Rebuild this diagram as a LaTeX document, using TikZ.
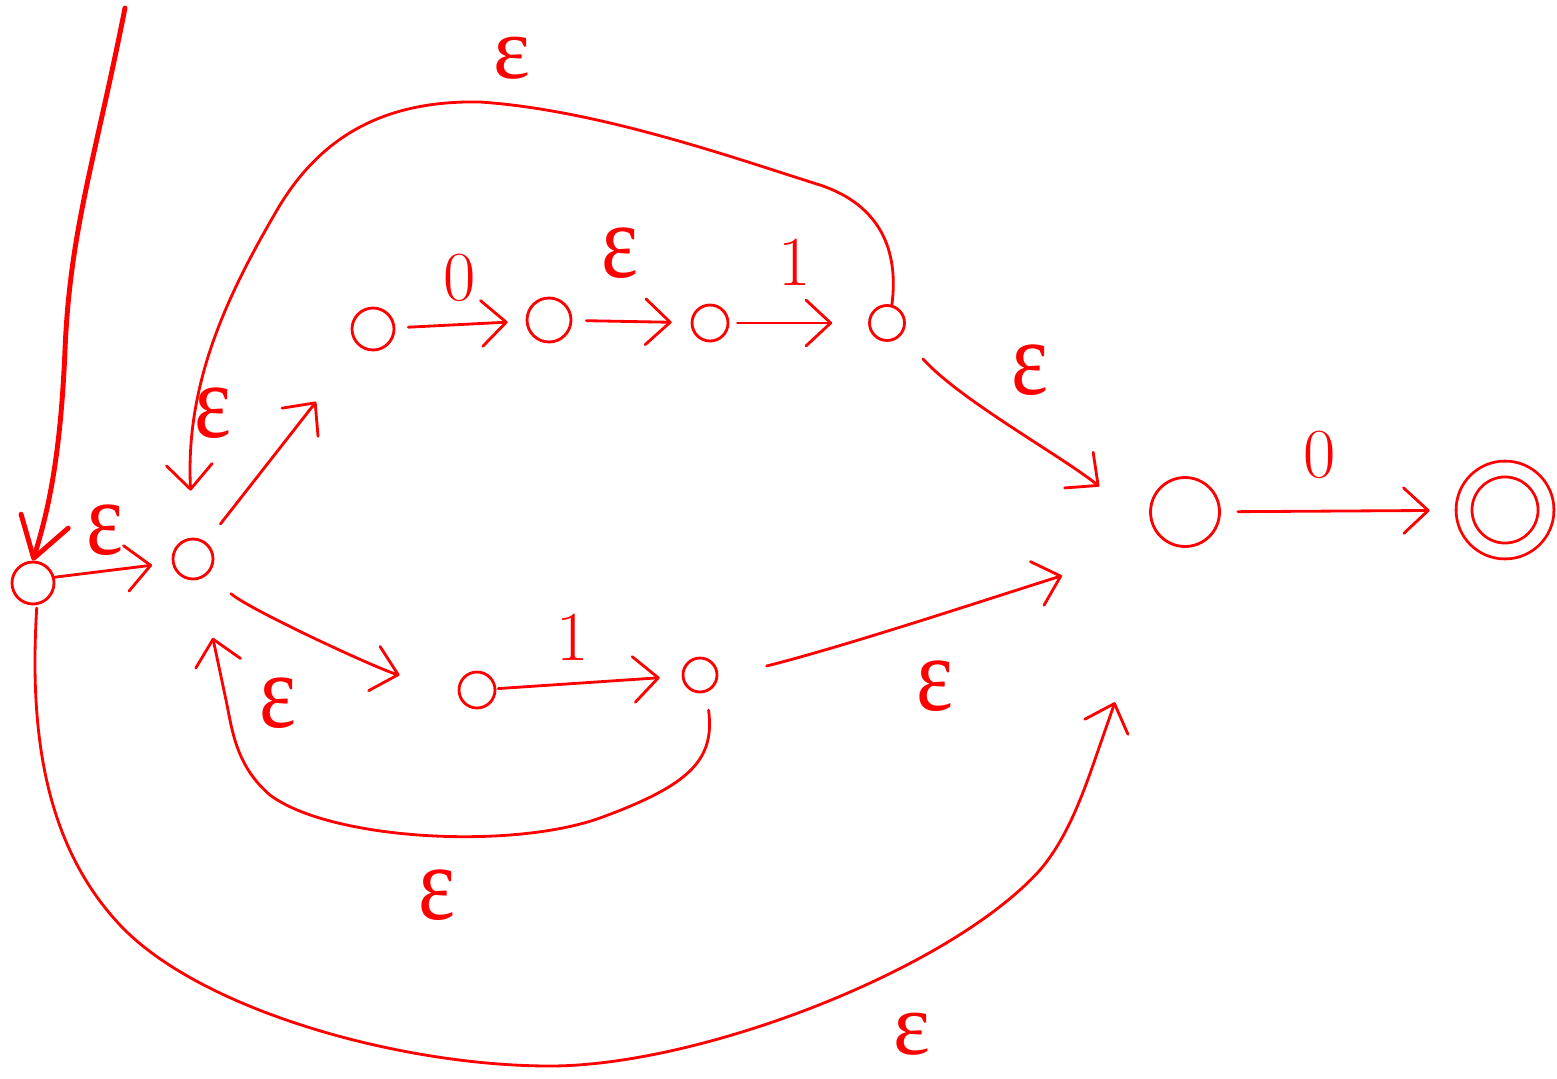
\documentclass[tikz,border=0pt]{standalone}
\usepackage{fontspec}
\usepackage{graphicx}
\newfontfamily\epsfont{Liberation Serif}
\usetikzlibrary{arrows.meta}
\begin{document}
\begin{tikzpicture}[x=0.02cm,y=-0.02cm,
  st/.style={circle,draw=red,line width=1.6pt,inner sep=0pt,minimum size=#1},
  edge/.style={draw=red,line width=1.6pt,line cap=round,line join=round,
    -{Straight Barb[length=14pt,width=26pt,round]}},
  eps/.style={text=red,inner sep=2pt,font=\epsfont\fontsize{50}{54}\selectfont},
  dig/.style={text=red,inner sep=0pt,font=\fontsize{40}{44}\selectfont}]
\useasboundingbox (0,0) rectangle (1557,1078);
% states
\node[st=0.84cm] (A) at (33,583) {};
\node[st=0.80cm] (B) at (193,559) {};
\node[st=0.84cm] (C) at (373,329) {};
\node[st=0.88cm] (D) at (549,320) {};
\node[st=0.72cm] (E) at (710,323) {};
\node[st=0.70cm] (F) at (887,323) {};
\node[st=0.72cm] (H) at (477,690) {};
\node[st=0.68cm] (I) at (700,675) {};
\node[st=1.38cm] (G) at (1185,512) {};
\node[st=1.64cm,double=white,double distance=7.4pt] (J) at (1505,510) {};
\coordinate (S) at (125,8);
% start arrow
\draw[edge,line width=2.8pt,-{Straight Barb[length=22pt,width=28pt,round]}]
  (S) .. controls (95,160) and (70,230) .. (65,350)
      .. controls (60,470) and (45,520) .. (A.north);
% A -> B
\draw[edge,shorten >=0.4cm] (A.15) -- (B.190);
\node[eps] (l1) at (105,530) {\scalebox{1}[1.2]{ε}};
% B -> C
\draw[edge,shorten <=0.46cm,shorten >=1.4cm] (B) -- (C);
\node[eps] (l2) at (213,413) {\scalebox{1}[1.2]{ε}};
% C -> D -> E -> F
\draw[edge,shorten <=0.26cm,shorten >=0.36cm] (C) -- (D);
\node[dig] (l3) at (460,278) {0};
\draw[edge,shorten <=0.28cm,shorten >=0.38cm] (D) -- (E);
\node[eps] (l4) at (620,253) {\scalebox{1}[1.2]{ε}};
\draw[edge,shorten <=0.16cm,shorten >=0.72cm] (E) -- (F);
\node[dig] (l5) at (795,262) {1};
% F -> B loop (top)
\draw[edge,shorten >=0.94cm] (F.75) .. controls (899,250) and (880,205) .. (820,185)
  .. controls (740,160) and (600,110) .. (480,102)
  .. controls (380,100) and (320,140) .. (280,205)
  .. controls (230,290) and (185,380) .. (B.north);
\node[eps] (l6) at (512,58) {ε};
% F -> G
\draw[edge,shorten <=0.64cm,shorten >=1.4cm] (F.-40) .. controls (960,400) and (1060,455) .. (G.-150);
\node[eps] (l7) at (1030,370) {\scalebox{1}[1.2]{ε}};
% B -> H
\draw[edge,shorten <=0.6cm,shorten >=1.2cm] (B.-45) .. controls (250,610) and (380,670) .. (H.west);
\node[eps] (l8) at (278,703) {\scalebox{1}[1.2]{ε}};
% H -> I
\draw[edge,shorten <=0.04cm,shorten >=0.44cm] (H) -- (I);
\node[dig] (l9) at (573,637) {1};
% I -> B loop (bottom)
\draw[edge,shorten <=0.36cm,shorten >=1.2cm] (I.-70) .. controls (715,760) and (690,785) .. (600,818)
  .. controls (510,850) and (330,840) .. (270,795)
  .. controls (235,765) and (232,728) .. (226,700) -- (B.-70);
\node[eps] (l10) at (437,895) {\scalebox{1}[1.2]{ε}};
% I -> G
\draw[edge,shorten <=1.0cm,shorten >=2.2cm] (I.-10) .. controls (850,645) and (1000,595) .. (G.-120);
\node[eps] (l11) at (935,686) {\scalebox{1}[1.2]{ε}};
% G -> J
\draw[edge,shorten <=0.34cm,shorten >=0.66cm] (G) -- (J);
\node[dig] (l12) at (1320,455) {0};
% A -> G loop (bottom)
\draw[edge,shorten <=0.06cm,shorten >=3.34cm] (A.-80) .. controls (30,720) and (40,840) .. (120,925)
  .. controls (200,1010) and (400,1066) .. (550,1066)
  .. controls (700,1066) and (950,970) .. (1040,870)
  .. controls (1070,835) and (1086,785) .. (1100,745) -- (G.-115);
\node[eps] (l13) at (912,1034) {ε};
\end{tikzpicture}
\end{document}
